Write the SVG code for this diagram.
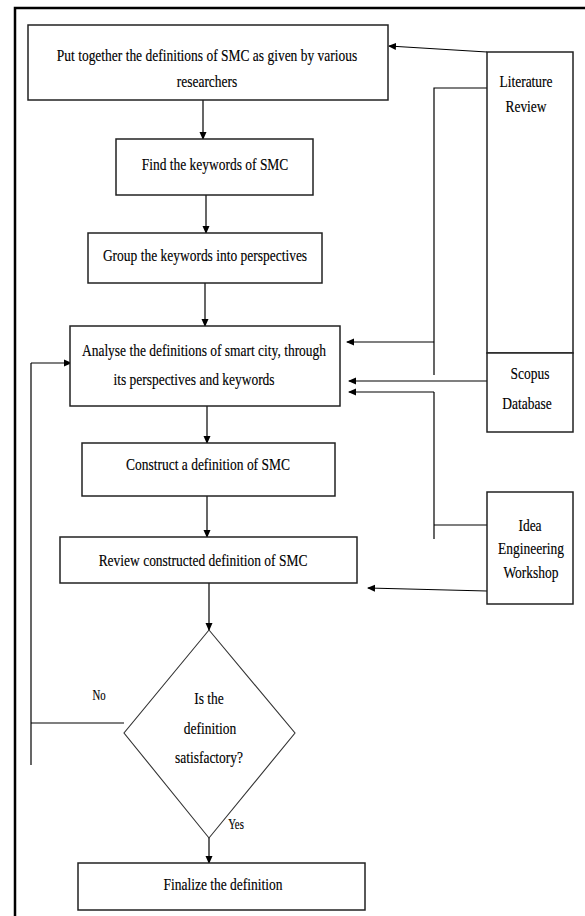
<svg xmlns="http://www.w3.org/2000/svg" width="585" height="916" viewBox="0 0 585 916">
<style>
.box{fill:#fff;stroke:#222;stroke-width:1.5}
text{font-family:"Liberation Serif","Times New Roman",serif;fill:#000;stroke:#000;stroke-width:0.15}
.t{font-size:17.5px;text-anchor:middle}
.tl{font-size:14px;text-anchor:middle}
.c{fill:none;stroke:#000;stroke-width:1.2}
.ca{fill:none;stroke:#000;stroke-width:1.2;marker-end:url(#ah)}
</style>
<defs>
<marker id="ah" markerWidth="8" markerHeight="8" refX="7" refY="4" orient="auto" markerUnits="userSpaceOnUse">
<path d="M0,0.5 L8,4 L0,7.5 Z" fill="#000"/>
</marker>
</defs>
<rect width="585" height="916" fill="#fff"/>
<g id="frame">
<path d="M15,916 V8 H585" fill="none" stroke="#000" stroke-width="2.5"/>
</g>
<g id="connectors">
<line class="ca" x1="203" y1="90" x2="203" y2="139"/>
<line class="ca" x1="206" y1="182" x2="206" y2="233"/>
<line class="ca" x1="205" y1="277" x2="205" y2="326"/>
<line class="ca" x1="207" y1="392" x2="207" y2="443"/>
<line class="ca" x1="207" y1="487" x2="207" y2="537"/>
<line class="ca" x1="209" y1="575" x2="209" y2="630"/>
<line class="ca" x1="209" y1="815" x2="209" y2="863"/>
<line class="ca" x1="487" y1="52" x2="389" y2="46" stroke-width="1.5"/>
<polyline class="c" points="487,88 434,88 434,375"/>
<line class="ca" x1="434" y1="342" x2="347" y2="342" stroke-width="1.5"/>
<line class="ca" x1="487" y1="381" x2="349" y2="381" stroke-width="1.5"/>
<polyline class="c" points="487,525 434,525"/>
<polyline class="c" points="434,539 434,392"/>
<line class="ca" x1="434" y1="392" x2="349" y2="392" stroke-width="1.5"/>
<line class="ca" x1="487" y1="591" x2="368" y2="588" stroke-width="1.5"/>
<polyline class="c" points="124,723 31,723"/>
<line class="c" x1="31" y1="765" x2="31" y2="363"/>
<line class="ca" x1="31" y1="363" x2="71" y2="363"/>
</g>
<g id="n1">
<rect class="box" x="28" y="25" width="360" height="75"/>
<text class="t" transform="translate(207,61) scale(0.77,1)">Put together the definitions of SMC as given by various</text>
<text class="t" transform="translate(207,87) scale(0.77,1)">researchers</text>
</g>
<g id="n2">
<rect class="box" x="116" y="139" width="197" height="56"/>
<text class="t" transform="translate(215,170) scale(0.77,1)">Find the keywords of SMC</text>
</g>
<g id="n3">
<rect class="box" x="88" y="233" width="234" height="50"/>
<text class="t" transform="translate(205,261) scale(0.77,1)">Group the keywords into perspectives</text>
</g>
<g id="n4">
<rect class="box" x="70" y="326" width="270" height="80"/>
<text class="t" transform="translate(204,356) scale(0.77,1)">Analyse the definitions of smart city, through</text>
<text class="t" transform="translate(194,385) scale(0.77,1)">its perspectives and keywords</text>
</g>
<g id="n5">
<rect class="box" x="82" y="443" width="253" height="53"/>
<text class="t" transform="translate(208,470) scale(0.77,1)">Construct a definition of SMC</text>
</g>
<g id="n6">
<rect class="box" x="60" y="537" width="297" height="46"/>
<text class="t" transform="translate(203,566) scale(0.77,1)">Review constructed definition of SMC</text>
</g>
<g id="n7">
<polygon points="209,630 295,733 209,838 124,733" fill="#fff" stroke="#333" stroke-width="1.1"/>
<text class="t" transform="translate(209,704) scale(0.77,1)">Is the</text>
<text class="t" transform="translate(210,734) scale(0.77,1)">definition</text>
<text class="t" transform="translate(209,763) scale(0.77,1)">satisfactory?</text>
</g>
<g id="n8">
<rect class="box" x="78" y="863" width="287" height="47"/>
<text class="t" transform="translate(223,890) scale(0.77,1)">Finalize the definition</text>
</g>
<g id="lit">
<rect class="box" x="487" y="52" width="86" height="301"/>
<text class="t" transform="translate(526,87) scale(0.77,1)">Literature</text>
<text class="t" transform="translate(526,112) scale(0.77,1)">Review</text>
</g>
<g id="scopus">
<rect class="box" x="487" y="353" width="86" height="79"/>
<text class="t" transform="translate(530,379) scale(0.77,1)">Scopus</text>
<text class="t" transform="translate(527,409) scale(0.77,1)">Database</text>
</g>
<g id="idea">
<rect class="box" x="487" y="492" width="86" height="112"/>
<text class="t" transform="translate(530,531) scale(0.77,1)">Idea</text>
<text class="t" transform="translate(531,554) scale(0.77,1)">Engineering</text>
<text class="t" transform="translate(531,578) scale(0.77,1)">Workshop</text>
</g>
<g id="labels">
<text class="tl" transform="translate(99,700) scale(0.77,1)">No</text>
<text class="tl" transform="translate(236,829) scale(0.77,1)">Yes</text>
</g>
</svg>
